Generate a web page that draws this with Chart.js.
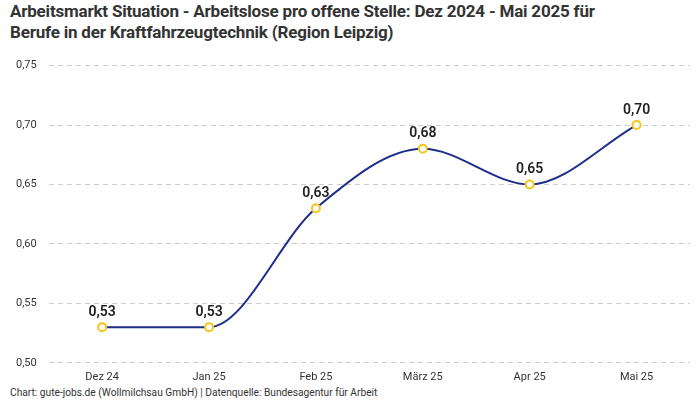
<!DOCTYPE html>
<html lang="de">
<head>
    <meta charset="UTF-8">
    <title>Arbeitsmarkt Situation</title>
    <script src="https://cdn.jsdelivr.net/npm/chart.js"></script>
    <style>
        html, body { margin: 0; padding: 0; background: #fff; }
        .wrap { position: relative; width: 700px; height: 400px; }
        .title {
            position: absolute; left: 10px; top: 1px;
            font-family: "Roboto", sans-serif; letter-spacing: -0.2px;
            font-weight: bold; font-size: 17px; line-height: 21px; color: #333;
        }
        .footer {
            position: absolute; left: 10px; top: 387px;
            font-family: "Roboto", "Noto Sans", sans-serif;
            font-size: 10.2px; color: #333;
        }
        .chart-box { position: absolute; left: 0; top: 47px; width: 700px; height: 337px; }
    </style>
</head>
<body>
<div class="wrap">
    <div class="title">Arbeitsmarkt Situation - Arbeitslose pro offene Stelle: Dez 2024 - Mai 2025 für<br>Berufe in der Kraftfahrzeugtechnik (Region Leipzig)</div>
    <div class="chart-box"><canvas id="chart"></canvas></div>
    <div class="footer">Chart: gute-jobs.de (Wollmilchsau GmbH) | Datenquelle: Bundesagentur für Arbeit</div>
</div>
<script>
    const months = ['Dez 24', 'Jan 25', 'Feb 25', 'März 25', 'Apr 25', 'Mai 25'];
    const ratio = [0.53, 0.53, 0.63, 0.68, 0.65, 0.70];
    const yMin = 0.50, yMax = 0.75, yStep = 0.05;

    const fmt = v => v.toFixed(2).replace('.', ',');

    // simple value labels above the points
    const valueLabels = {
        id: 'valueLabels',
        afterDatasetsDraw(chart) {
            const ctx = chart.ctx;
            const meta = chart.getDatasetMeta(0);
            ctx.save();
            ctx.font = '600 14px Roboto, sans-serif';
            ctx.fillStyle = '#222';
            ctx.textAlign = 'center';
            ctx.textBaseline = 'bottom';
            meta.data.forEach((pt, i) => {
                ctx.fillText(fmt(ratio[i]), pt.x, pt.y - 8);
            });
            ctx.restore();
        }
    };

    new Chart(document.getElementById('chart').getContext('2d'), {
        type: 'line',
        data: {
            labels: months,
            datasets: [{
                data: ratio,
                borderColor: '#1c2d8c',
                borderWidth: 2,
                cubicInterpolationMode: 'monotone',
                pointRadius: 4,
                pointBorderWidth: 2,
                pointBackgroundColor: '#fff',
                pointBorderColor: '#f5c518',
                fill: false
            }]
        },
        options: {
            responsive: true,
            maintainAspectRatio: false,
            animation: false,
            layout: { padding: { left: 4, right: 10, top: 18, bottom: 0 } },
            plugins: { legend: { display: false }, tooltip: { enabled: false } },
            scales: {
                x: {
                    offset: true,
                    grid: { display: false },
                    border: { display: false },
                    ticks: { color: '#333', font: { family: 'Roboto', size: 11 }, padding: 0 }
                },
                y: {
                    min: yMin, max: yMax,
                    grid: { color: '#cccccc', drawTicks: false },
                    border: { display: false, dash: [5, 4] },
                    ticks: {
                        stepSize: yStep, color: '#333', padding: 12,
                        font: { family: 'Roboto', size: 11 },
                        callback: v => fmt(v)
                    }
                }
            }
        },
        plugins: [valueLabels]
    });
</script>
</body>
</html>
